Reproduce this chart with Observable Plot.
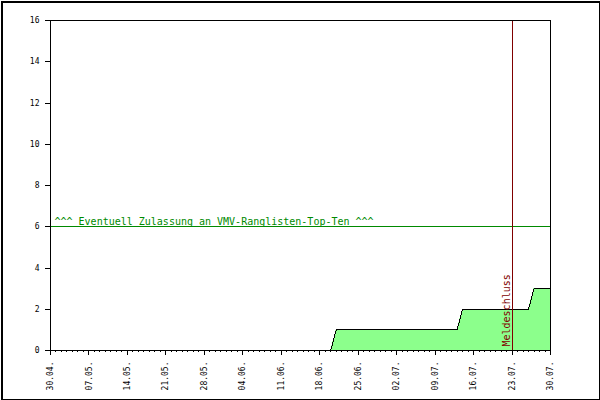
<!DOCTYPE html>
<html><head><meta charset="utf-8">
<script src="https://cdn.jsdelivr.net/npm/d3@7"></script>
<script src="https://cdn.jsdelivr.net/npm/@observablehq/plot@0.6"></script>
<style>body{margin:0;background:#fff} svg line, svg path, svg rect {shape-rendering: crispEdges}</style>
</head><body><div id="chart"></div>
<script>
const dates = ["2008-04-30","2008-06-20","2008-06-21","2008-07-13","2008-07-14","2008-07-26","2008-07-27","2008-07-30"];
const values = [0,0,1,1,2,2,3,3];
const weekTicks = ["2008-04-30","2008-05-07","2008-05-14","2008-05-21","2008-05-28","2008-06-04","2008-06-11","2008-06-18","2008-06-25","2008-07-02","2008-07-09","2008-07-16","2008-07-23","2008-07-30"];
const yTicks = [0,2,4,6,8,10,12,14,16];
const thresholdValue = 6;
const thresholdLabel = "^^^ Eventuell Zulassung an VMV-Ranglisten-Top-Ten ^^^";
const deadline = "2008-07-23";
const deadlineLabel = "Meldeschluss";

const parse = d3.utcParse("%Y-%m-%d");
const data = dates.map((d, i) => ({date: parse(d), value: values[i]}));
const weekDates = weekTicks.map(parse);
const start = weekDates[0], end = weekDates[weekDates.length - 1];
const allDays = d3.utcDay.range(start, d3.utcDay.offset(end, 1));
const deadlineDate = parse(deadline);

const chart = Plot.plot({
  width: 600, height: 400,
  marginLeft: 50, marginRight: 50, marginTop: 20, marginBottom: 50,
  style: {fontFamily: "DejaVu Sans Mono", fontSize: "8px", background: "#fff", color: "#000"},
  x: {type: "utc", domain: [start, end]},
  y: {domain: [0, 16]},
  marks: [
    Plot.areaY(data, {x: "date", y: "value", fill: "#8cff8c", curve: "linear"}),
    Plot.lineY(data, {x: "date", y: "value", stroke: "#000", strokeWidth: 1, curve: "linear"}),
    Plot.ruleY([thresholdValue], {stroke: "#008a00", strokeWidth: 1}),
    Plot.text([thresholdLabel], {x: start, y: thresholdValue, text: d => d, textAnchor: "start", lineAnchor: "bottom", dx: 4, dy: -2, fill: "#008a00", fontSize: 10}),
    Plot.ruleX([deadlineDate], {stroke: "#800000", strokeWidth: 1}),
    Plot.text([deadlineLabel], {x: deadlineDate, y: 0, text: d => d, rotate: -90, textAnchor: "start", lineAnchor: "bottom", dx: -2, dy: -4, fill: "#800000", fontSize: 10}),
    Plot.axisX({ticks: allDays, tickSize: 2, tickFormat: () => "", label: null}),
    Plot.axisX({ticks: weekDates, tickSize: 5, tickPadding: 6, tickRotate: -90, tickFormat: d3.utcFormat("%d.%m."), label: null, fontSize: 8}),
    Plot.axisY({ticks: yTicks, tickSize: 5, tickPadding: 6, label: null, fontSize: 8}),
    Plot.frame({stroke: "#000"}),
    Plot.frame({stroke: "#000", strokeWidth: 2, insetTop: -19, insetBottom: -49, insetLeft: -49, insetRight: -49})
  ]
});
document.getElementById("chart").appendChild(chart);
</script>
</body></html>
